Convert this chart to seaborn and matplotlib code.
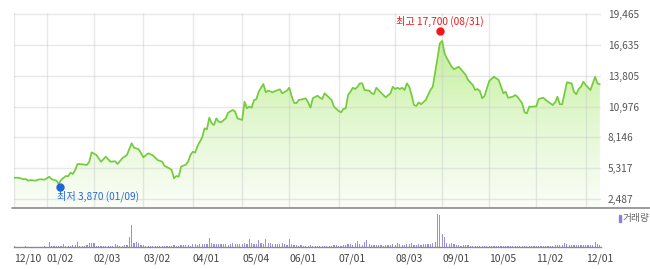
import numpy as np
import pandas as pd
import matplotlib
matplotlib.use("Agg")
import matplotlib.pyplot as plt
import seaborn as sns
from matplotlib.colors import LinearSegmentedColormap
from matplotlib.transforms import offset_copy
from matplotlib.lines import Line2D
from matplotlib.patches import Rectangle

# ---------------- data ----------------
price_day = [0, 2, 4, 5, 6, 7, 9, 11, 13, 15, 16, 18, 19, 20, 22, 23, 24, 25, 26, 27,
             29, 31, 32, 33, 35, 37, 39, 41, 43, 44, 46, 48, 50, 51, 53, 55, 57, 59, 61, 63,
             64, 66, 67, 68, 69, 70, 71, 73, 74, 75, 76, 77, 78, 80, 81, 82, 83, 84, 85, 86,
             87, 88, 90, 91, 93, 94, 95, 97, 98, 99, 100, 101, 102, 103, 104, 105, 106, 107, 108, 110,
             111, 113, 114, 116, 117, 118, 119, 120, 121, 123, 124, 125, 126, 127, 129, 130, 131, 132, 134, 135,
             136, 138, 139, 140, 141, 142, 143, 144, 145, 146, 147, 148, 149, 151, 152, 153, 154, 156, 157, 158,
             160, 161, 162, 163, 164, 165, 166, 167, 168, 169, 170, 171, 172, 173, 175, 176, 177, 178, 180, 181,
             182, 183, 184, 186, 187, 189, 190, 192, 193, 195, 196, 197, 198, 199, 200, 201, 202, 204, 206, 207,
             208, 209, 210, 212, 213, 214, 216, 217, 218, 219, 220, 222, 223, 224, 225, 226, 228, 229, 230, 231,
             232, 233, 234, 235, 237, 238, 239, 240, 241, 242, 243, 245, 247, 248, 249]
close = [4440, 4440, 4300, 4320, 4170, 4230, 4170, 4300, 4260, 4530, 4300, 4170, 3870, 4230, 4600, 4570, 4900, 4780, 5150, 5700,
         5670, 5610, 5910, 6770, 6530, 5910, 6370, 5910, 5950, 5700, 6220, 6530, 7600, 7200, 7050, 6310, 6680, 6500, 6070, 5910,
         5520, 5300, 5150, 4390, 4600, 4530, 5450, 5640, 5910, 6530, 6830, 6740, 7350, 8150, 8980, 8880, 9950, 9430, 9280, 9890,
         9580, 9530, 9890, 10410, 10660, 10500, 9890, 9740, 11420, 10810, 10960, 10870, 11570, 11640, 12330, 12700, 13040, 12280, 12430, 12280,
         12400, 12550, 12190, 12430, 12700, 11940, 11320, 11270, 11570, 11660, 11730, 11360, 10870, 11730, 11970, 11780, 11660, 12190, 11780, 11570,
         10960, 10560, 10440, 10750, 10810, 12030, 12330, 12700, 12580, 12790, 13100, 13100, 12490, 12430, 12190, 12120, 12700, 12240, 12030, 11820,
         12190, 12790, 12580, 12700, 12580, 12700, 12490, 13100, 12790, 12030, 11110, 11020, 11360, 11180, 11570, 12030, 12490, 12790, 15400, 16780,
         16990, 15860, 15400, 14630, 14390, 14630, 14390, 13870, 13410, 12950, 12490, 12580, 12400, 11730, 11940, 12650, 13320, 13710, 13410, 12790,
         12190, 12330, 11780, 11870, 12030, 11870, 11270, 10440, 10350, 10960, 10960, 10990, 11660, 11730, 11780, 11570, 11270, 11110, 11360, 11870,
         11180, 11180, 12190, 13200, 13100, 12330, 12100, 12580, 12790, 13250, 12950, 12490, 13710, 13100, 13010]

volume = [60, 40, 50, 30, 40, 60, 30, 40, 50, 40,
          30, 50, 40, 60, 50, 500, 120, 90, 110, 150,
          130, 300, 120, 100, 140, 160, 180, 480, 150, 120,
          140, 200, 380, 420, 400, 150, 130, 120, 110, 140,
          120, 100, 130, 300, 160, 130, 150, 180, 250, 1000,
          2200, 450, 500, 380, 200, 180, 150, 120, 140, 130,
          120, 150, 100, 110, 130, 120, 100, 140, 180, 130,
          120, 160, 200, 180, 220, 150, 260, 300, 250, 280,
          320, 350, 300, 900, 400, 300, 350, 280, 260, 300,
          350, 250, 300, 400, 280, 300, 350, 320, 450, 300,
          850, 400, 350, 300, 750, 380, 300, 780, 450, 400,
          350, 300, 280, 350, 400, 300, 250, 820, 300, 200,
          180, 150, 160, 140, 150, 130, 200, 140, 120, 130,
          110, 140, 120, 150, 130, 120, 160, 180, 150, 140,
          200, 180, 300, 350, 250, 400, 650, 300, 200, 550,
          700, 300, 250, 200, 180, 160, 170, 150, 200, 180,
          250, 300, 220, 380, 260, 240, 200, 300, 260, 400,
          250, 220, 280, 200, 260, 300, 350, 320, 400, 500,
          3300, 3170, 1300, 970, 400, 350, 380, 300, 200, 180,
          150, 160, 200, 170, 140, 150, 130, 120, 150, 140,
          120, 130, 110, 140, 120, 100, 130, 110, 120, 100,
          90, 110, 100, 130, 90, 80, 100, 120, 90, 80,
          100, 90, 110, 80, 100, 120, 130, 110, 150, 140,
          200, 180, 160, 250, 400, 280, 220, 240, 200, 180,
          220, 190, 170, 210, 180, 200, 250, 500, 300, 200]

y_ticks = [2487, 5317, 8146, 10976, 13805, 16635, 19465]
x_tick_pos = [0, 14, 34, 55, 76, 97, 117, 138, 162, 182, 202, 222, 243]
x_tick_labels = ["12/10", "01/02", "02/03", "03/02", "04/01", "05/04", "06/01",
                 "07/01", "08/03", "09/01", "10/05", "11/02", "12/01"]
low_day, low_value, low_label = 19, 3870, "최저 3,870 (01/09)"
high_day, high_value, high_label = 181, 17700, "최고 17,700 (08/31)"
volume_legend = "거래량"

# ---------------- style ----------------
sns.set_style("white")
plt.rcParams["font.family"] = ["Noto Sans CJK KR", "DejaVu Sans"]

W, H = 650, 269
fig = plt.figure(figsize=(W / 100, H / 100), dpi=100)
fig.patch.set_facecolor("white")

def fx(px):
    return px / W

def fy(py):
    return 1 - py / H

ax = fig.add_axes([fx(14), fy(208), (601 - 14) / W, (208 - 13) / H])
axv = fig.add_axes([fx(14), fy(247), (601 - 14) / W, (247 - 211) / H])

per_px = (19465 - 2487) / (199 - 14)
ylo = 2487 - (208 - 199) * per_px
yhi = 19465 + 1 * per_px
xmax = 249.5

df = pd.DataFrame({"day": price_day, "close": close})

# gradient fill under the line
poly = ax.fill_between(df["day"], df["close"], ylo, facecolor="none", edgecolor="none")
cmap = LinearSegmentedColormap.from_list("g", ["#fbfef8", "#e3f8d2", "#c3ef98"])
grad = np.linspace(0, 1, 256).reshape(-1, 1)
im = ax.imshow(grad, extent=[0, xmax, ylo, 17200], origin="lower", aspect="auto",
               cmap=cmap, zorder=1, interpolation="bilinear")
im.set_clip_path(poly.get_paths()[0], transform=ax.transData)

# grid
for yv in y_ticks:
    ax.axhline(yv, color=(0.80, 0.80, 0.80, 0.45), lw=1, zorder=2)
for xv in x_tick_pos:
    ax.axvline(xv, color=(0.80, 0.80, 0.80, 0.45), lw=1, zorder=2)

sns.lineplot(data=df, x="day", y="close", ax=ax, color="#74cb3c", lw=1.25, zorder=3)

ax.set_xlim(0, xmax)
ax.set_ylim(ylo, yhi)
ax.set_xlabel("")
ax.set_ylabel("")
for s in ax.spines.values():
    s.set_visible(False)
ax.set_xticks([])
ax.yaxis.tick_right()
ax.set_yticks(y_ticks)
ax.set_yticklabels([f"{v:,}" for v in y_ticks])
ax.tick_params(axis="y", length=0, pad=5, labelsize=7.3, labelcolor="#555555")

# high / low markers
tr_up = offset_copy(ax.transData, fig=fig, x=0, y=2, units="dots")
tr_dn = offset_copy(ax.transData, fig=fig, x=1, y=-3, units="dots")
ax.plot([high_day], [high_value], "o", color="#f01818", ms=5, transform=tr_up, zorder=5, clip_on=False)
ax.plot([low_day], [low_value], "o", color="#1e64d6", ms=5, transform=tr_dn, zorder=5, clip_on=False)
ax.annotate(high_label, xy=(high_day, high_value), xytext=(0, 12), textcoords="offset pixels",
            ha="center", va="center", color="#f01818", fontsize=7.3, zorder=6)
ax.annotate(low_label, xy=(low_day, low_value), xytext=(-2, -12), textcoords="offset pixels",
            ha="left", va="center", color="#2a6ad6", fontsize=7.3, zorder=6)

# figure-wide separator line under the price panel
fig.add_artist(Line2D([fx(12), fx(650)], [fy(208), fy(208)], color="#8a8a8a", lw=1.2))

# volume panel
vdf = pd.DataFrame({"day": np.arange(len(volume)), "volume": volume})
sns.barplot(data=vdf, x="day", y="volume", ax=axv, native_scale=True, color="#9d8ddc",
            saturation=1, width=0.5, errorbar=None, linewidth=0)
axv.set_xlim(0, xmax)
axv.set_ylim(0, 3600)
axv.set_xlabel("")
axv.set_ylabel("")
for k in ["top", "right", "left"]:
    axv.spines[k].set_visible(False)
axv.spines["bottom"].set_color("#8a8a8a")
axv.spines["bottom"].set_linewidth(1)
axv.set_yticks([])
axv.set_xticks(x_tick_pos)
axv.set_xticklabels(x_tick_labels, ha="left")
axv.tick_params(axis="x", length=3, width=0.8, color="#8a8a8a", pad=2,
                labelsize=7.5, labelcolor="#444444")

# volume legend
fig.add_artist(Rectangle((fx(618.5), fy(222)), 2.2 / W, 7 / H, color="#8f7fd6",
                         transform=fig.transFigure))
fig.text(fx(622.5), fy(218.5), volume_legend, ha="left", va="center", fontsize=7,
         color="#666666")

fig.savefig("out.png", dpi=100, facecolor="white")
